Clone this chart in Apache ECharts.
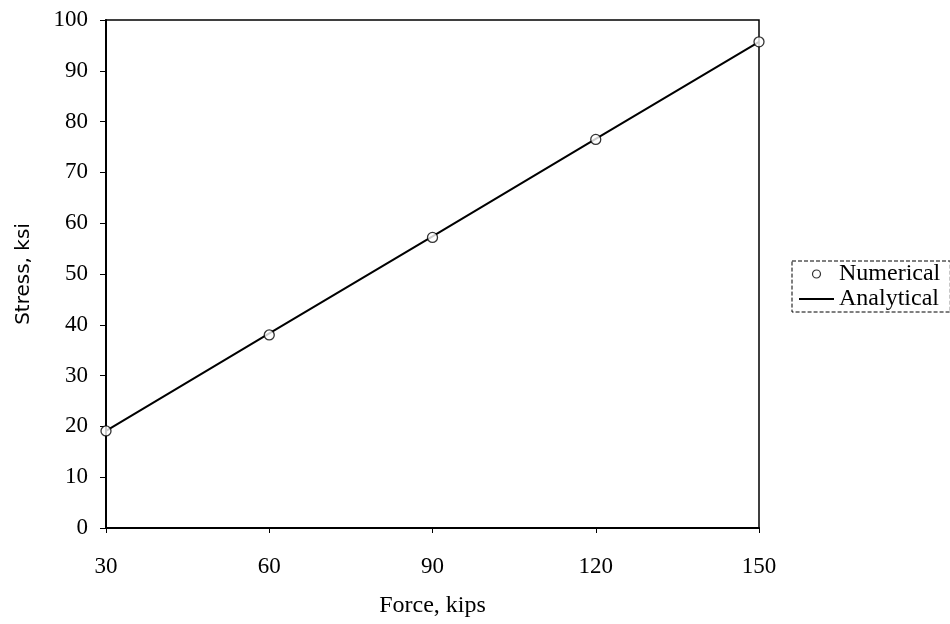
<!DOCTYPE html>
<html>
<head>
<meta charset="utf-8">
<script src="https://cdn.jsdelivr.net/npm/echarts@6/dist/echarts.min.js"></script>
<style>html,body{margin:0;padding:0;background:#fff}#c{width:950px;height:624px}</style>
</head>
<body>
<div id="c"></div>
<script>
var force = [30, 60, 90, 120, 150];
var numerical = [19.1, 38.0, 57.2, 76.5, 95.7];
var analytical = [19.1, 38.3, 57.4, 76.6, 95.7];
var xTicks = [30, 60, 90, 120, 150];

var chart = echarts.init(document.getElementById('c'));
var serif = '"Liberation Serif", "Times New Roman", serif';
chart.setOption({
  backgroundColor: '#fff',
  animation: false,
  grid: {left: 106, top: 20, right: 191, bottom: 96, show: true, borderColor: '#000', borderWidth: 1.5},
  legend: {
    orient: 'vertical', left: 792, top: 261,
    backgroundColor: '#fff',
    borderColor: '#000', borderWidth: 1, borderType: 'dashed',
    padding: [1, 10, 1, 6], itemGap: 1, itemWidth: 35, itemHeight: 8,
    textStyle: {fontFamily: serif, fontSize: 24, color: '#000'},
    data: [
      {name: 'Numerical', icon: 'circle', itemStyle: {color: '#fff', borderColor: '#000', borderWidth: 1.2}},
      {name: 'Analytical', itemStyle: {opacity: 0}, lineStyle: {color: '#000', width: 2}}
    ]
  },
  xAxis: {
    type: 'value', min: 30, max: 150, interval: 30,
    name: 'Force, kips', nameLocation: 'middle', nameGap: 66,
    nameTextStyle: {fontFamily: serif, fontSize: 24, color: '#000'},
    axisLine: {show: true, lineStyle: {color: '#000', width: 2}},
    axisTick: {show: true, length: 5, lineStyle: {color: '#000'}},
    axisLabel: {fontFamily: serif, fontSize: 23, color: '#000', margin: 27},
    splitLine: {show: false}
  },
  yAxis: {
    type: 'value', min: 0, max: 100, interval: 10,
    name: 'Stress, ksi', nameLocation: 'middle', nameGap: 72,
    nameTextStyle: {fontFamily: '"DejaVu Sans", sans-serif', fontSize: 20, color: '#000'},
    axisLine: {show: true, lineStyle: {color: '#000', width: 2}},
    axisTick: {show: true, length: 6, lineStyle: {color: '#000'}},
    axisLabel: {fontFamily: serif, fontSize: 23, color: '#000', margin: 18},
    splitLine: {show: false}
  },
  series: [
    {
      name: 'Numerical', type: 'scatter', symbol: 'circle', symbolSize: 10,
      itemStyle: {color: '#fff', borderColor: '#000', borderWidth: 1.3},
      data: force.map(function (f, i) { return [f, numerical[i]]; }), z: 3
    },
    {
      name: 'Analytical', type: 'line', symbol: 'none',
      lineStyle: {color: '#000', width: 2},
      itemStyle: {color: '#000'},
      data: force.map(function (f, i) { return [f, analytical[i]]; }), z: 2
    }
  ]
});
</script>
</body>
</html>
